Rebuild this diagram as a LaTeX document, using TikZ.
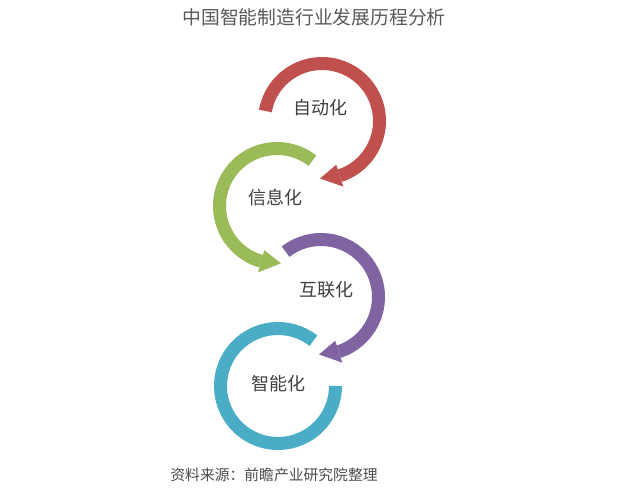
\documentclass[tikz,border=0pt]{standalone}
\usepackage{fontspec}
\setmainfont{Noto Sans CJK SC}
\usetikzlibrary{calc}
\begin{document}
\begin{tikzpicture}[x=1pt,y=1pt,
  band/.style={line width=13pt},
  lbl/.style={text=black!75, font=\fontsize{18}{18}\selectfont, inner sep=0pt},
  ttl/.style={text=black!65, font=\fontsize{18.8}{19}\selectfont, inner sep=0pt},
  src/.style={text=black!70, font=\fontsize{14.8}{15}\selectfont, inner sep=0pt}]
\definecolor{cred}{HTML}{C0504D}
\definecolor{cgreen}{HTML}{9BBB59}
\definecolor{cpurple}{HTML}{8064A2}
\definecolor{cteal}{HTML}{4BACC6}
\path[fill=white,use as bounding box] (0,0) rectangle (640,493);
% centres
\coordinate (cr) at (322,372);
\coordinate (cg) at (277,287);
\coordinate (cp) at (321,196);
\coordinate (ct) at (278,107);
\def\rr{57.5}
% red
\draw[band,cred] ($(cr)+(170:\rr)$) arc[start angle=170,end angle=-72,radius=\rr];
\fill[cred] ($(cr)+(-72:46)$) -- ($(cr)+(-72:69)$) -- ($(cr)+(-92:\rr)$) -- cycle;
% green
\draw[band,cgreen] ($(cg)+(52:\rr)$) arc[start angle=52,end angle=254,radius=\rr];
\fill[cgreen] ($(cg)+(254:46)$) -- ($(cg)+(254:69)$) -- ($(cg)+(274:\rr)$) -- cycle;
% purple
\draw[band,cpurple] ($(cp)+(128:\rr)$) arc[start angle=128,end angle=-72,radius=\rr];
\fill[cpurple] ($(cp)+(-72:46)$) -- ($(cp)+(-72:69)$) -- ($(cp)+(-92:\rr)$) -- cycle;
% teal
\draw[band,cteal] ($(ct)+(52:\rr)$) arc[start angle=52,end angle=360,radius=\rr];
% labels
\node[lbl] (l1) at (320,385) {自动化};
\node[lbl] (l2) at (275,295) {信息化};
\node[lbl] (l3) at (326,203) {互联化};
\node[lbl] (l4) at (278,109) {智能化};
\node[ttl] (title) at (314,476) {中国智能制造行业发展历程分析};
\node[src] (source) at (274,18) {资料来源：前瞻产业研究院整理};
\end{tikzpicture}
\end{document}
